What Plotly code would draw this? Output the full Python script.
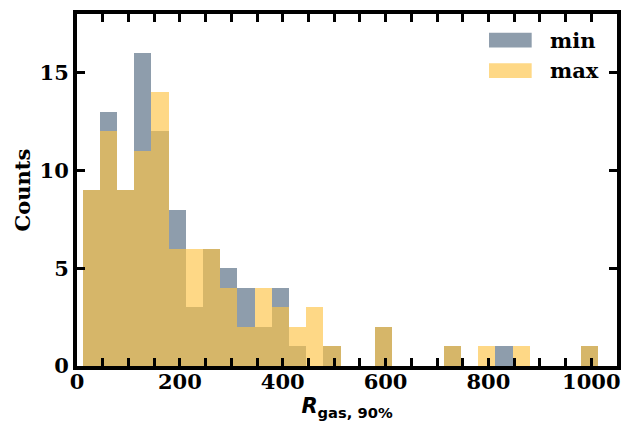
import numpy as np
import plotly.graph_objects as go

# Histogram binning: 30 equal bins spanning the sample range
bin_lo = 11.0
bin_hi = 1014.0
n_bins = 30

# Counts per bin for each radius estimate
counts_min = [9, 13, 9, 16, 12, 8, 3, 6, 5, 4, 2, 4, 1, 0, 1,
              0, 0, 2, 0, 0, 0, 1, 0, 0, 1, 0, 0, 0, 0, 1]
counts_max = [9, 12, 9, 11, 14, 6, 6, 6, 4, 2, 4, 3, 2, 3, 1,
              0, 0, 2, 0, 0, 0, 1, 0, 1, 0, 1, 0, 0, 0, 1]

series_names = ["min", "max"]
series_colors = ["rgba(142,157,172,1.0)", "rgba(253,195,69,0.65)"]

edges = np.linspace(bin_lo, bin_hi, n_bins + 1)
centers = 0.5 * (edges[:-1] + edges[1:])
width = edges[1] - edges[0]

fig = go.Figure()
for name, counts, color in zip(series_names, [counts_min, counts_max], series_colors):
    fig.add_trace(go.Bar(
        x=centers, y=counts, width=width, name=name,
        marker=dict(color=color, line=dict(width=0)),
        showlegend=False,
    ))

serif = "DejaVu Serif"
tick_font = dict(family=serif, size=21, color="black", weight="bold")

fig.update_layout(
    width=624, height=422,
    margin=dict(l=77, r=3, t=14, b=56),
    paper_bgcolor="white", plot_bgcolor="white",
    barmode="overlay", bargap=0,
    xaxis=dict(
        range=[0, 1050], dtick=200, tick0=0,
        showgrid=False, zeroline=False,
        showline=True, linewidth=4, linecolor="black", mirror="allticks",
        ticks="inside", ticklen=8, tickwidth=3, tickcolor="black",
        minor=dict(dtick=50, ticks="inside", ticklen=8, tickwidth=3, tickcolor="black", showgrid=False),
        tickfont=tick_font, ticklabelstandoff=-6,
        title=dict(text="<b><i>R</i><sub>gas, 90%</sub></b>",
                   font=dict(family="DejaVu Sans", size=21, color="black"), standoff=6),
    ),
    yaxis=dict(
        range=[0, 18], dtick=5, tick0=0,
        showgrid=False, zeroline=False,
        showline=True, linewidth=4, linecolor="black", mirror="allticks",
        ticks="inside", ticklen=8, tickwidth=3, tickcolor="black",
        tickfont=tick_font,
        title=dict(text="<b>Counts</b>", font=dict(family=serif, size=21, color="black"), standoff=4),
    ),
)

# Legend drawn as wide swatches with labels in the upper right
legend_rows = [(0.926, "min"), (0.839, "max")]
for (yc, name), color in zip(legend_rows, series_colors):
    fig.add_shape(type="rect", xref="paper", yref="paper",
                  x0=0.763, x1=0.842, y0=yc - 0.021, y1=yc + 0.021,
                  fillcolor=color, line=dict(width=0))
    fig.add_annotation(xref="paper", yref="paper", x=0.873, y=yc,
                       text=f"<b>{name}</b>", showarrow=False,
                       xanchor="left", yanchor="middle",
                       font=dict(family=serif, size=21, color="black"))

fig.write_html("out.html")
